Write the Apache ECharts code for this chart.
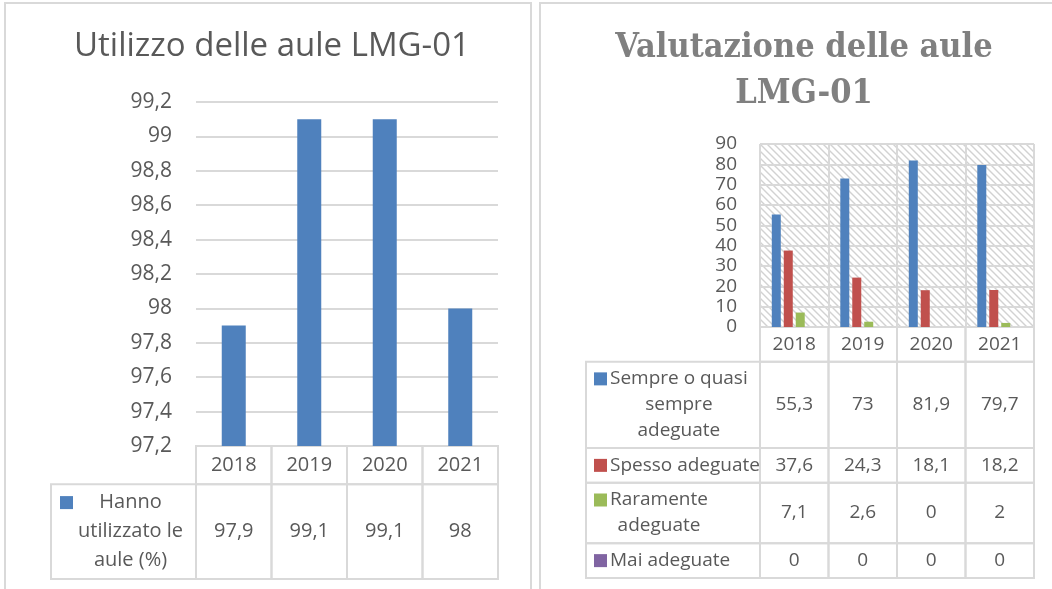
<!DOCTYPE html>
<html>
<head>
<meta charset="utf-8">
<script src="https://cdn.jsdelivr.net/npm/echarts@6/dist/echarts.min.js"></script>
<style>
  html, body { margin: 0; padding: 0; background: #fff; }
  #chart { width: 1052px; height: 589px; }
</style>
</head>
<body>
<div id="chart"></div>
<script>
// --- data -------------------------------------------------------------
const years = ['2018', '2019', '2020', '2021'];

const usageName = 'Hanno\nutilizzato le\naule (%)';
const usageValues = [97.9, 99.1, 99.1, 98];
const usageTicks = { min: 97.2, max: 99.2, step: 0.2 };

const ratingNames = ['Sempre o quasi\nsempre\nadeguate', 'Spesso adeguate', 'Raramente\nadeguate', 'Mai adeguate'];
const ratingSempre = [55.3, 73, 81.9, 79.7];
const ratingSpesso = [37.6, 24.3, 18.1, 18.2];
const ratingRaramente = [7.1, 2.6, 0, 2];
const ratingMai = [0, 0, 0, 0];
const ratingTicks = { min: 0, max: 90, step: 10 };

// --- styles -----------------------------------------------------------
const TEXT = '#595959';
const LINE = '#d9d9d9';
const SANS = '"Open Sans", sans-serif';
const SERIF = '"DejaVu Serif Condensed", "DejaVu Serif", serif';
const BLUE = '#4f81bd';
const ratingColors = ['#4f81bd', '#c0504d', '#9bbb59', '#8064a2'];

const fmt = (v) => String(Math.round(v * 10) / 10).replace('.', ',');

const measureCtx = document.createElement('canvas').getContext('2d');
function textWidth(str, size) {
  measureCtx.font = size + 'px "Open Sans"';
  return Math.max(...str.split('\n').map((s) => measureCtx.measureText(s).width));
}

// row spans in "line units" (lines of text + a bit of padding)
function rowSpans(rows) {
  let acc = 0;
  return rows.map((r) => {
    const start = acc;
    acc += r.lines + 0.35;
    return [start, acc];
  });
}

function hatchPattern() {
  const c = document.createElement('canvas');
  c.width = 7;
  c.height = 7;
  const g = c.getContext('2d');
  g.strokeStyle = '#d2d2d2';
  g.lineWidth = 1.4;
  g.beginPath();
  g.moveTo(-7, 0); g.lineTo(7, 14);
  g.moveTo(0, 0); g.lineTo(7, 7);
  g.moveTo(0, -7); g.lineTo(14, 7);
  g.stroke();
  return c;
}

// builds the two custom series (value cells + legend column) for a data table
function tableSeries(idx, rows, opts) {
  const spans = rowSpans(rows);
  const cellData = [];
  const cellText = [];
  rows.forEach((row, r) => {
    row.cells.forEach((txt, c) => {
      cellData.push([c, spans[r][0], spans[r][1]]);
      cellText.push(txt);
    });
  });
  const legendRows = rows.filter((r) => r.label);
  const legendData = rows
    .map((row, r) => (row.label ? [0, spans[r][0], spans[r][1]] : null))
    .filter(Boolean);

  const cells = {
    type: 'custom',
    xAxisIndex: idx,
    yAxisIndex: idx,
    clip: false,
    silent: true,
    encode: { x: 0, y: [1, 2] },
    data: cellData,
    renderItem(params, api) {
      const c = api.value(0);
      const p0 = api.coord([c, api.value(1)]);
      const p1 = api.coord([c, api.value(2)]);
      const w = api.size([1, 0])[0];
      const h = p1[1] - p0[1];
      return {
        type: 'group',
        children: [
          {
            type: 'rect',
            shape: { x: p0[0] - w / 2, y: p0[1], width: w, height: h },
            style: { fill: 'none', stroke: LINE, lineWidth: 2 },
          },
          {
            type: 'text',
            style: {
              text: cellText[params.dataIndex],
              x: p0[0],
              y: p0[1] + h / 2,
              align: 'center',
              verticalAlign: 'middle',
              fill: TEXT,
              font: opts.fontSize + 'px ' + SANS,
            },
          },
        ],
      };
    },
  };

  const legend = {
    type: 'custom',
    xAxisIndex: idx,
    yAxisIndex: idx,
    clip: false,
    silent: true,
    encode: { x: 0, y: [1, 2] },
    data: legendData,
    renderItem(params, api) {
      const row = legendRows[params.dataIndex];
      const cs = params.coordSys;
      const p0 = api.coord([0, api.value(1)]);
      const p1 = api.coord([0, api.value(2)]);
      const right = cs.x;
      const left = right - opts.legendWidth;
      const h = p1[1] - p0[1];
      const mid = p0[1] + h / 2;
      const firstLine = mid - (row.lines - 1) * opts.lineHeight / 2;
      const keyX = left + opts.keyInset;
      const blockLeft = keyX + 13 + opts.keyGap;
      const blockW = textWidth(row.label, opts.fontSize);
      return {
        type: 'group',
        children: [
          {
            type: 'rect',
            shape: { x: left, y: p0[1], width: opts.legendWidth, height: h },
            style: { fill: 'none', stroke: LINE, lineWidth: 2 },
          },
          {
            type: 'rect',
            shape: { x: keyX, y: firstLine - 6.5, width: 13, height: 13 },
            style: { fill: row.color },
          },
          {
            type: 'text',
            style: {
              text: row.label,
              x: blockLeft + blockW / 2,
              y: mid,
              align: 'center',
              verticalAlign: 'middle',
              lineHeight: opts.lineHeight,
              fill: TEXT,
              font: opts.fontSize + 'px ' + SANS,
            },
          },
        ],
      };
    },
  };
  return { series: [cells, legend], total: spans[spans.length - 1][1] };
}

// --- tables -----------------------------------------------------------
const usageRows = [
  { lines: 1, cells: years },
  { label: usageName, lines: usageName.split('\n').length, color: BLUE, cells: usageValues.map(fmt) },
];
const ratingSets = [ratingSempre, ratingSpesso, ratingRaramente, ratingMai];
const ratingRows = [{ lines: 1, cells: years }].concat(
  ratingNames.map((name, i) => ({
    label: name,
    lines: name.split('\n').length,
    color: ratingColors[i],
    cells: ratingSets[i].map(fmt),
  }))
);

const usageTable = tableSeries(1, usageRows, { fontSize: 20, lineHeight: 29, legendWidth: 145, keyInset: 9, keyGap: 5 });
const ratingTable = tableSeries(3, ratingRows, { fontSize: 19, lineHeight: 26, legendWidth: 174, keyInset: 8, keyGap: 3 });

// --- chart ------------------------------------------------------------
const chart = echarts.init(document.getElementById('chart'), null, { renderer: 'canvas' });

chart.setOption({
  animation: false,
  backgroundColor: '#fff',
  title: [
    {
      text: 'Utilizzo delle aule LMG-01',
      left: 267,
      top: 25,
      textAlign: 'center',
      textStyle: { fontFamily: SANS, fontSize: 33, fontWeight: 'normal', color: TEXT },
    },
    {
      text: 'Valutazione delle aule\nLMG-01',
      left: 799,
      top: 20,
      textAlign: 'center',
      textStyle: { fontFamily: SERIF, fontSize: 34, fontWeight: 'bold', color: '#808080', lineHeight: 46 },
    },
  ],
  graphic: [
    { type: 'rect', shape: { x: 5, y: 3, width: 526, height: 620 }, style: { fill: 'none', stroke: LINE, lineWidth: 2 }, silent: true },
    { type: 'rect', shape: { x: 540, y: 3, width: 540, height: 620 }, style: { fill: 'none', stroke: LINE, lineWidth: 2 }, silent: true },
  ],
  grid: [
    { left: 196, top: 102, width: 302, height: 344 },
    { left: 196, top: 446, width: 302, height: 133 },
    {
      left: 760, top: 144, width: 274, height: 183,
      show: true, borderWidth: 0,
      backgroundColor: { image: hatchPattern(), repeat: 'repeat' },
    },
    { left: 760, top: 327, width: 274, height: 251 },
  ],
  xAxis: [
    { gridIndex: 0, type: 'category', data: years, axisLine: { show: false }, axisTick: { show: false }, axisLabel: { show: false } },
    { gridIndex: 1, type: 'category', data: years, show: false },
    {
      gridIndex: 2, type: 'category', data: years,
      axisLine: { show: false }, axisTick: { show: false }, axisLabel: { show: false },
      splitLine: { show: true, interval: 0, lineStyle: { color: LINE, width: 2 } },
    },
    { gridIndex: 3, type: 'category', data: years, show: false },
  ],
  yAxis: [
    {
      gridIndex: 0, type: 'value',
      min: usageTicks.min, max: usageTicks.max, interval: usageTicks.step,
      axisLine: { show: false }, axisTick: { show: false },
      axisLabel: { formatter: fmt, color: TEXT, fontFamily: SANS, fontSize: 21, margin: 24 },
      splitLine: { lineStyle: { color: LINE, width: 2 } },
    },
    { gridIndex: 1, type: 'value', inverse: true, min: 0, max: usageTable.total, show: false },
    {
      gridIndex: 2, type: 'value',
      min: ratingTicks.min, max: ratingTicks.max, interval: ratingTicks.step,
      axisLine: { show: false }, axisTick: { show: false },
      axisLabel: { formatter: fmt, color: TEXT, fontFamily: SANS, fontSize: 19, margin: 23 },
      splitLine: { lineStyle: { color: LINE, width: 2 } },
    },
    { gridIndex: 3, type: 'value', inverse: true, min: 0, max: ratingTable.total, show: false },
  ],
  series: [
    {
      name: usageName,
      type: 'bar',
      xAxisIndex: 0,
      yAxisIndex: 0,
      barWidth: 24,
      itemStyle: { color: BLUE },
      data: usageValues,
    },
    ...ratingSets.map((vals, i) => ({
      name: ratingNames[i],
      type: 'bar',
      xAxisIndex: 2,
      yAxisIndex: 2,
      barWidth: 9,
      barGap: '33%',
      itemStyle: { color: ratingColors[i] },
      data: vals,
    })),
    ...usageTable.series,
    ...ratingTable.series,
  ],
});
</script>
</body>
</html>
